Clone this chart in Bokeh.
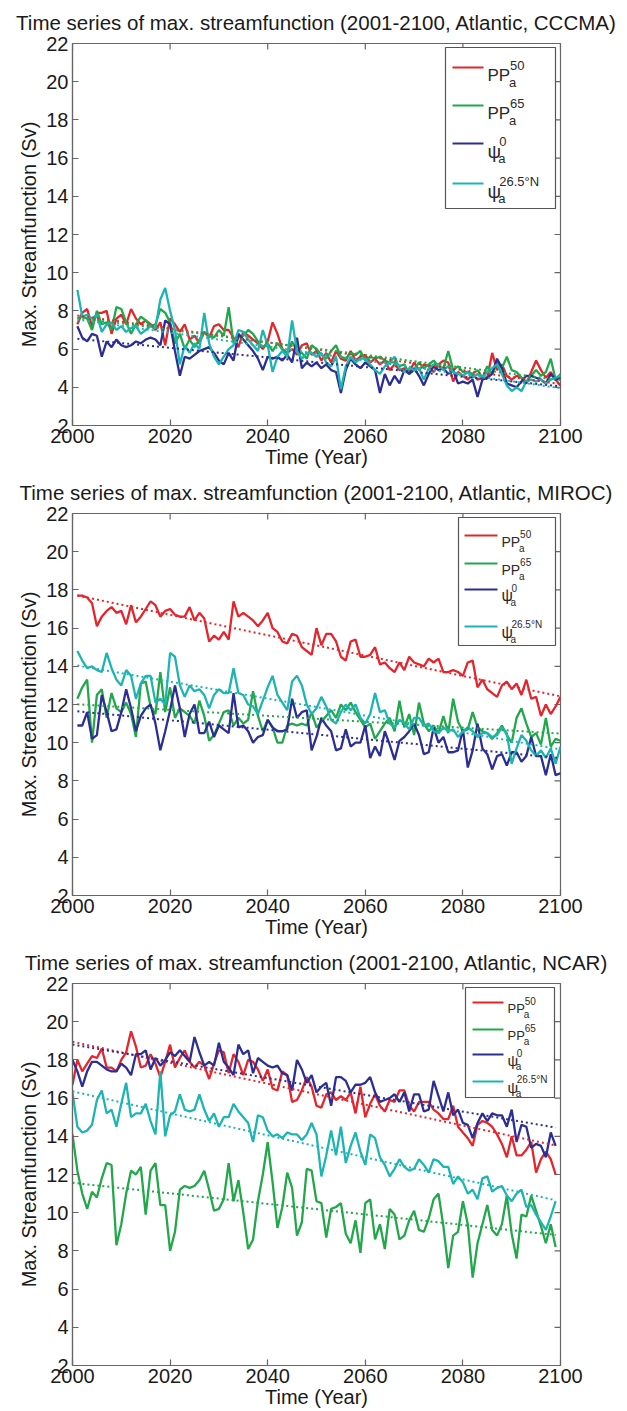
import numpy as np
from bokeh.plotting import figure
from bokeh.layouts import column
from bokeh.models import Label, BoxAnnotation, FixedTicker
from bokeh.embed import file_html
from bokeh.resources import INLINE

# ---------------------------------------------------------------- data
years_2001_2100 = list(range(2001, 2101))
years_2000_2099 = list(range(2000, 2100))

cccma_pp50 = [7.3, 7.9, 8.1, 7.2, 7.9, 7.9, 8.0, 6.8, 7.6, 7.8, 7.3, 8.1, 7.6, 7.3, 7.5, 7.3, 7.0, 7.4, 6.2, 7.6,
              7.3, 6.9, 7.3, 6.5, 6.7, 6.3, 6.9, 6.6, 7.2, 7.3, 7.0, 7.0, 6.6, 6.1, 6.9, 6.7, 6.5, 6.3, 6.0, 6.4,
              7.4, 6.8, 6.0, 5.8, 6.0, 5.7, 6.2, 6.3, 5.7, 5.9, 5.4, 5.8, 5.3, 5.9, 5.5, 5.4, 5.9, 5.4, 5.6, 5.7,
              5.3, 5.5, 5.2, 5.4, 4.9, 5.2, 4.9, 5.0, 4.8, 5.3, 4.9, 5.2, 5.1, 4.8, 5.2, 5.4, 5.3, 4.3, 4.8, 4.6,
              4.4, 4.7, 4.4, 4.5, 4.5, 5.8, 4.9, 5.2, 4.6, 4.4, 4.6, 4.5, 4.2, 4.8, 5.4, 4.9, 4.5, 4.8, 4.4, 4.1]
cccma_pp65 = [7.6, 7.7, 7.6, 7.0, 8.0, 7.3, 7.4, 7.0, 8.2, 8.1, 7.4, 6.8, 7.3, 7.7, 7.5, 7.2, 7.3, 8.1, 7.9, 7.4,
              6.3, 6.8, 6.0, 6.5, 6.1, 6.5, 6.9, 6.7, 6.6, 7.0, 6.7, 8.2, 6.3, 6.6, 6.7, 7.0, 6.8, 6.4, 6.1, 6.3,
              5.9, 6.3, 6.0, 5.8, 6.4, 5.9, 5.8, 5.5, 6.2, 6.0, 5.7, 5.5, 5.9, 6.2, 5.6, 5.5, 5.8, 5.7, 5.9, 5.4,
              5.6, 5.5, 5.6, 5.4, 5.3, 5.3, 5.1, 5.2, 4.7, 4.9, 5.3, 5.0, 5.2, 5.4, 5.1, 5.0, 5.9, 4.9, 5.1, 4.8,
              4.8, 4.7, 4.9, 4.5, 5.1, 4.7, 5.3, 5.0, 5.6, 4.9, 4.8, 4.5, 4.3, 4.6, 4.9, 4.6, 4.8, 5.5, 4.4, 4.7]
cccma_psi0 = [7.2, 6.6, 6.4, 6.8, 6.7, 5.6, 6.4, 6.1, 6.5, 6.2, 6.1, 6.2, 6.4, 6.3, 6.5, 6.6, 6.5, 6.2, 7.5, 7.3,
              5.9, 4.6, 5.6, 5.5, 5.7, 5.9, 6.0, 6.1, 5.8, 5.4, 5.2, 5.8, 5.4, 6.8, 6.5, 6.2, 5.9, 5.5, 4.9, 5.6,
              5.5, 5.6, 5.4, 5.7, 5.3, 6.6, 5.0, 5.3, 5.1, 5.3, 5.0, 5.2, 4.9, 4.8, 3.7, 4.9, 5.5, 5.2, 5.0, 5.3,
              5.1, 4.9, 3.7, 4.7, 4.1, 4.6, 4.2, 4.9, 4.7, 5.0, 4.6, 4.1, 4.7, 5.1, 4.9, 5.0, 4.7, 4.9, 4.2, 4.3,
              4.2, 4.4, 3.5, 4.4, 4.5, 4.7, 5.5, 5.0, 4.2, 4.1, 4.0, 4.3, 4.6, 4.6, 4.5, 4.4, 4.2, 4.7, 4.4, 4.5]
cccma_psi265 = [9.1, 7.7, 7.8, 7.6, 7.8, 6.9, 7.3, 7.4, 7.0, 7.2, 6.9, 7.1, 7.2, 6.8, 7.0, 7.2, 7.1, 8.6, 9.2, 8.0,
                7.0, 5.2, 6.2, 5.8, 6.3, 6.0, 7.9, 6.3, 5.6, 5.2, 5.6, 6.0, 6.2, 7.0, 6.9, 6.5, 6.2, 5.9, 7.0, 6.2,
                4.8, 5.6, 5.9, 5.6, 7.5, 5.9, 5.5, 5.8, 5.8, 5.6, 5.8, 5.3, 5.1, 5.6, 3.9, 5.1, 5.6, 5.3, 5.5, 5.5,
                5.2, 4.9, 4.7, 5.1, 5.3, 5.6, 5.0, 4.8, 5.0, 4.9, 5.0, 4.4, 5.0, 5.2, 5.2, 4.9, 5.1, 4.8, 4.7, 4.6,
                4.8, 4.5, 4.7, 4.5, 4.8, 5.0, 5.2, 4.7, 4.1, 3.8, 4.0, 3.8, 4.3, 4.4, 4.3, 4.4, 4.2, 4.4, 4.5, 4.6]

miroc_pp50 = [17.7, 17.7, 17.6, 17.3, 16.1, 16.6, 16.9, 17.1, 16.8, 16.9, 16.2, 17.2, 16.3, 16.6, 17.0, 17.4, 17.2, 16.6, 16.9, 17.0,
              16.7, 16.6, 16.6, 17.1, 16.4, 16.8, 16.5, 15.3, 15.6, 15.4, 15.8, 15.4, 17.4, 16.6, 16.8, 16.6, 16.4, 16.1, 16.4, 16.8,
              16.0, 15.8, 15.3, 15.2, 15.7, 15.6, 15.0, 14.8, 14.6, 16.0, 15.1, 15.7, 15.7, 15.3, 14.5, 14.3, 15.3, 15.4, 14.5, 14.5,
              14.6, 15.0, 14.1, 14.2, 13.9, 13.7, 14.2, 13.8, 14.5, 14.2, 14.1, 14.0, 14.4, 14.2, 14.4, 13.7, 13.7, 13.8, 13.7, 13.5,
              14.2, 14.3, 12.9, 13.3, 12.8, 12.6, 12.4, 13.0, 13.2, 12.8, 13.1, 12.5, 13.3, 12.3, 12.4, 11.4, 12.0, 11.5, 11.9, 12.4]
miroc_pp65 = [12.3, 12.9, 13.3, 10.0, 12.5, 12.8, 11.3, 12.6, 11.8, 11.6, 12.1, 11.5, 10.3, 13.1, 13.2, 11.9, 11.5, 13.7, 11.6, 12.9,
              11.3, 11.8, 11.6, 11.4, 11.0, 12.2, 11.4, 10.1, 10.4, 11.0, 11.6, 11.7, 10.9, 11.3, 11.0, 11.2, 12.7, 11.4, 10.6, 11.2,
              10.8, 10.0, 10.0, 10.9, 11.0, 10.9, 11.0, 10.9, 11.6, 10.8, 11.1, 11.4, 11.7, 11.3, 12.0, 11.7, 12.1, 11.6, 11.2, 10.8,
              11.0, 10.2, 10.6, 11.0, 11.3, 10.6, 12.2, 10.8, 11.5, 10.4, 12.1, 11.0, 10.6, 10.9, 10.5, 11.4, 10.5, 12.3, 11.1, 10.6,
              10.7, 11.6, 10.8, 10.6, 10.5, 10.2, 10.5, 10.9, 10.4, 10.0, 11.3, 11.8, 11.0, 10.3, 10.5, 9.9, 11.3, 9.8, 10.2, 10.1]
miroc_psi0 = [10.9, 10.9, 11.6, 10.2, 10.4, 12.5, 11.6, 10.6, 10.7, 11.6, 12.8, 11.8, 10.6, 11.4, 11.8, 12.0, 11.0, 9.6, 10.6, 11.7,
              13.0, 11.8, 10.3, 11.5, 12.0, 10.5, 10.5, 11.1, 10.3, 10.9, 10.7, 10.5, 12.6, 10.8, 10.9, 10.6, 10.0, 10.3, 10.4, 11.2,
              10.8, 10.6, 10.6, 10.7, 12.3, 11.3, 11.6, 11.7, 9.6, 10.3, 11.3, 10.9, 10.6, 9.6, 9.7, 10.7, 9.8, 10.0, 10.0, 10.9,
              9.2, 9.8, 9.3, 10.6, 9.9, 9.1, 10.1, 10.3, 10.6, 11.0, 10.4, 9.4, 9.5, 10.8, 10.0, 10.3, 9.5, 9.5, 9.6, 10.7,
              8.7, 9.6, 11.0, 9.7, 9.4, 8.6, 9.3, 9.4, 8.8, 9.5, 9.5, 9.0, 9.3, 10.3, 9.3, 9.3, 8.3, 9.4, 8.3, 8.4]
miroc_psi265 = [14.8, 14.3, 13.9, 14.0, 13.8, 13.7, 14.7, 13.9, 13.3, 13.0, 13.8, 13.5, 12.3, 13.1, 13.5, 13.5, 12.1, 12.3, 12.0, 14.7,
                14.5, 13.0, 12.4, 13.0, 12.7, 12.8, 12.5, 11.8, 12.5, 12.8, 12.6, 12.6, 13.9, 12.6, 12.5, 12.0, 11.9, 11.5, 12.2, 12.9,
                13.5, 12.5, 12.1, 11.7, 13.2, 13.5, 13.0, 12.0, 11.5, 11.8, 12.4, 11.9, 11.2, 11.0, 11.6, 12.0, 11.7, 12.0, 11.3, 11.0,
                11.5, 12.6, 11.6, 11.7, 11.0, 10.8, 11.2, 11.0, 10.7, 11.3, 11.3, 10.9, 11.0, 10.6, 10.5, 10.8, 10.6, 10.7, 10.3, 10.6,
                10.8, 10.6, 10.3, 10.5, 10.5, 10.3, 10.4, 10.8, 10.5, 8.9, 9.7, 10.4, 10.1, 9.6, 9.3, 9.6, 9.2, 9.7, 8.9, 9.8]

ncar_pp50 = [16.7, 18.0, 17.4, 17.8, 18.2, 18.1, 18.6, 17.6, 17.6, 17.4, 18.0, 18.4, 19.5, 18.7, 17.6, 17.7, 18.3, 17.8, 17.1, 17.9,
             18.8, 17.6, 18.1, 18.5, 17.9, 17.6, 17.9, 17.7, 17.0, 17.8, 18.5, 18.4, 17.3, 18.3, 17.9, 17.2, 18.0, 17.9, 17.5, 16.9,
             17.5, 16.5, 16.4, 17.4, 17.2, 15.8, 15.9, 16.4, 17.1, 16.6, 15.6, 15.5, 16.2, 16.3, 15.9, 16.1, 15.9, 16.3, 15.2, 16.6,
             15.0, 15.7, 16.2, 15.6, 15.3, 15.9, 15.8, 16.4, 16.4, 15.6, 15.3, 15.8, 15.8, 15.8, 15.4, 15.2, 14.9, 14.9, 15.6, 14.5,
             14.2, 13.9, 13.5, 14.6, 14.8, 14.7, 14.5, 14.1, 13.6, 12.9, 14.0, 13.0, 13.0, 13.3, 13.7, 12.1, 12.8, 13.2, 12.8, 12.0]
ncar_pp65 = [14.1, 12.2, 11.0, 10.2, 11.1, 10.8, 11.8, 12.6, 12.5, 8.3, 9.4, 11.0, 12.2, 12.0, 12.4, 9.9, 12.2, 12.6, 10.4, 10.4,
             8.0, 9.0, 11.2, 11.4, 11.3, 11.4, 11.7, 12.2, 11.2, 10.1, 10.2, 10.7, 12.6, 10.6, 11.7, 10.0, 8.1, 8.6, 10.6, 12.0,
             13.7, 11.6, 9.2, 10.3, 12.1, 11.3, 8.8, 9.5, 12.3, 12.2, 10.6, 10.5, 8.7, 10.2, 10.3, 10.5, 8.9, 8.4, 9.6, 7.9,
             10.5, 10.7, 8.6, 9.4, 8.1, 10.2, 9.9, 8.6, 8.8, 9.6, 10.1, 9.1, 9.0, 9.7, 10.7, 11.0, 9.3, 7.1, 8.8, 9.0,
             10.6, 9.4, 6.6, 8.4, 9.4, 10.4, 9.1, 8.8, 9.4, 10.9, 8.9, 7.6, 9.9, 9.8, 10.9, 10.1, 9.3, 8.4, 9.4, 8.2]
ncar_psi0 = [18.0, 17.4, 16.6, 17.4, 17.9, 17.9, 17.7, 17.5, 17.4, 17.4, 17.8, 17.6, 17.2, 18.3, 18.3, 18.5, 17.5, 18.1, 17.7, 18.0,
             18.4, 18.2, 18.5, 18.2, 17.9, 19.2, 18.4, 17.7, 17.9, 17.7, 18.9, 17.9, 17.6, 17.2, 18.8, 18.3, 18.5, 17.3, 18.1, 17.9,
             17.7, 17.6, 17.7, 17.3, 17.2, 16.4, 18.0, 17.5, 16.8, 17.2, 16.3, 16.6, 16.8, 15.6, 17.1, 17.1, 16.9, 16.3, 16.7, 16.7,
             16.8, 17.1, 16.3, 15.8, 15.9, 16.0, 16.2, 15.8, 16.3, 15.3, 16.2, 16.2, 15.3, 15.4, 16.9, 16.1, 15.3, 16.3, 15.1, 15.4,
             14.7, 14.6, 13.9, 14.7, 15.2, 14.8, 15.2, 15.1, 15.1, 14.5, 15.4, 13.7, 14.6, 14.5, 13.4, 13.6, 13.5, 12.9, 14.2, 13.5]
ncar_psi265 = [16.3, 14.5, 14.2, 14.3, 14.6, 15.9, 16.4, 15.2, 15.4, 14.5, 15.7, 16.8, 15.0, 15.2, 15.2, 15.7, 14.8, 14.1, 17.4, 14.0,
               15.1, 15.3, 16.2, 15.4, 15.3, 15.4, 16.2, 15.4, 14.8, 15.2, 14.5, 15.0, 15.0, 15.7, 15.3, 15.0, 14.7, 13.7, 15.1, 15.0,
               14.3, 14.0, 14.1, 13.9, 14.2, 14.1, 14.1, 13.8, 14.1, 14.7, 14.1, 11.9, 13.0, 14.3, 13.0, 14.5, 12.6, 13.5, 14.2, 13.2,
               12.5, 14.1, 13.9, 12.9, 12.5, 11.9, 12.3, 12.8, 12.4, 12.2, 12.3, 12.8, 12.5, 12.1, 12.8, 12.7, 12.4, 12.4, 11.5, 11.9,
               11.6, 11.0, 11.2, 10.7, 11.8, 11.9, 11.1, 11.3, 11.4, 10.9, 10.6, 11.0, 11.2, 10.3, 10.4, 9.9, 9.5, 9.1, 9.8, 10.6]

x_ticks = [2000, 2020, 2040, 2060, 2080, 2100]
y_ticks = [2, 4, 6, 8, 10, 12, 14, 16, 18, 20, 22]

series_names = ["PP", "PP", "\u03c8", "\u03c8"]
series_sup = ["50", "65", "0", "26.5\u00b0N"]
series_colors = ["#e4262c", "#22a74b", "#2c2e93", "#1eb4b4"]

panels = [
    ("Time series of max. streamfunction (2001-2100, Atlantic, CCCMA)", years_2001_2100,
     [cccma_pp50, cccma_pp65, cccma_psi0, cccma_psi265]),
    ("Time series of max. streamfunction (2001-2100, Atlantic, MIROC)", years_2001_2100,
     [miroc_pp50, miroc_pp65, miroc_psi0, miroc_psi265]),
    ("Time series of max. streamfunction (2001-2100, Atlantic, NCAR)", years_2000_2099,
     [ncar_pp50, ncar_pp65, ncar_psi0, ncar_psi265]),
]

# legend geometry per panel, in pixels from the frame's top-left corner:
# box (left, top, right, bottom), line start/end x, entry centres, font sizes
legend_styles = [
    dict(box=(373, 4, 483, 165), line=(380, 411), rows=(24, 62, 100, 140), main=17, small=13),
    dict(box=(386, 4, 483, 132), line=(392, 425), rows=(22, 50, 76, 113), main=14, small=10),
    dict(box=(393, 4, 482, 114), line=(400, 431), rows=(19, 46, 71, 98), main=13, small=10),
]

FONT = "Liberation Sans"
AXIS_GREY = "#666666"
W, H = 627, 470
FL, FR, FT, FB = 72, 67, 43, 45
FW, FH = W - FL - FR, H - FT - FB


def frame_label(p, text, px, py, size, baseline="alphabetic"):
    # px, py measured from the frame's top-left corner; screen units count up from the bottom
    p.add_layout(Label(x=px, y=FH - py, x_units="screen", y_units="screen", text=text,
                       text_font=FONT, text_font_size=f"{size}px", text_color="#2a2a2a",
                       text_baseline=baseline, text_align="left"))


def frame_box(p, left, top, right, bottom, fill, line=None, lw=1):
    p.add_layout(BoxAnnotation(left=left, right=right, top=FH - top, bottom=FH - bottom,
                               left_units="screen", right_units="screen",
                               top_units="screen", bottom_units="screen",
                               fill_color=fill, fill_alpha=1.0,
                               line_color=line, line_width=lw, line_alpha=1.0 if line else 0))


def make_panel(title, years, values, style):
    p = figure(width=W, height=H, x_range=(2000, 2100), y_range=(2, 22),
               output_backend="svg", toolbar_location=None,
               min_border_left=FL, min_border_right=FR, min_border_top=FT, min_border_bottom=FB,
               x_axis_label="Time (Year)", y_axis_label="Max. Streamfunction (Sv)")
    p.title.text = title
    p.title.text_font = FONT
    p.title.text_font_size = "20.5px"
    p.title.text_font_style = "normal"
    p.title.align = "center"
    p.title.text_color = "#1a1a1a"
    # title hangs from the top of its panel, leaving the frame in place
    p.title.vertical_align = "top"
    p.title.text_baseline = "top"
    p.title.standoff = 16
    p.grid.visible = False
    p.outline_line_color = AXIS_GREY
    p.outline_line_width = 1.2
    p.background_fill_color = "white"

    for ax in p.axis:
        ax.ticker = FixedTicker(ticks=x_ticks if ax in p.xaxis else y_ticks)
        ax.major_tick_in = 6
        ax.major_tick_out = 0
        ax.minor_tick_line_color = None
        ax.major_tick_line_color = AXIS_GREY
        ax.major_tick_line_width = 1.2
        ax.axis_line_color = AXIS_GREY
        ax.axis_line_width = 1.2
        ax.major_label_text_font = FONT
        ax.major_label_text_font_size = "20px"
        ax.major_label_text_color = "#1a1a1a"
        ax.axis_label_text_font = FONT
        ax.axis_label_text_font_size = "20px"
        ax.axis_label_text_font_style = "normal"
        ax.axis_label_text_color = "#1a1a1a"
    p.xaxis[0].major_label_standoff = 3
    p.xaxis[0].axis_label_standoff = 0
    p.yaxis[0].major_label_standoff = 4
    p.yaxis[0].axis_label_standoff = 3

    # inward tick marks on the top and right edges of the box
    p.scatter(x_ticks, [p.y_range.end] * len(x_ticks), marker="dash", angle=np.pi / 2,
              size=12, line_color=AXIS_GREY, line_width=1.2)
    p.scatter([p.x_range.end] * len(y_ticks), y_ticks, marker="dash",
              size=12, line_color=AXIS_GREY, line_width=1.2)

    for vals, color in zip(values, series_colors):
        p.line(years, vals, line_color=color, line_width=2.3)
    for vals, color in zip(values, series_colors):
        slope, icpt = np.polyfit(years, vals, 1)
        ends = [years[0], years[-1]]
        p.line(ends, [slope * y + icpt for y in ends], line_color=color,
               line_width=2, line_dash="2 3")

    # legend: box, line samples and stacked super/subscript labels
    bl, bt, br, bb = style["box"]
    frame_box(p, bl, bt, br, bb, "white", "#555555", 1.2)
    lx0, lx1 = style["line"]
    m, s = style["main"], style["small"]
    for name, sup, color, row in zip(series_names, series_sup, series_colors, style["rows"]):
        frame_box(p, lx0, row - 1, lx1, row + 1, color)
        tx = lx1 + 4
        size = m if name == "PP" else m + 2
        frame_label(p, name, tx, row + 0.45 * m, size)
        w = (1.33 if name == "PP" else 0.62) * size
        frame_label(p, sup, tx + w, row - 0.12 * m, s)
        frame_label(p, "a", tx + w - 1, row + 0.9 * m, s)
    return p


figs = [make_panel(t, yrs, vals, st) for (t, yrs, vals), st in zip(panels, legend_styles)]
layout = column(*figs, spacing=0)
open("out.html", "w").write(file_html(layout, INLINE))
